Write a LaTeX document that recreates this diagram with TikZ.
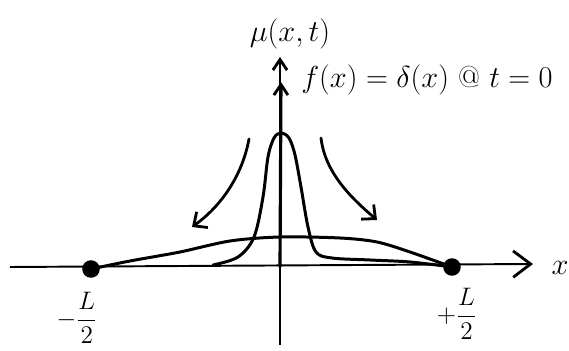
\documentclass[tikz,border=0pt]{standalone}
\usepackage{amsmath}
\usetikzlibrary{positioning, arrows.meta, calc}

\begin{document}
\begin{tikzpicture}[
  x=0.02cm, y=0.02cm,
  xaxis/.style={line width=1.1pt, -{Straight Barb[length=10pt, width=15pt, line width=1.6pt]}},
  yaxis/.style={line width=1.1pt, -{Straight Barb[length=6pt, width=8pt, line width=1.6pt]}},
  spike/.style={line width=1.8pt, -{Straight Barb[length=6pt, width=8pt, line width=1.6pt]}},
  curve/.style={line width=1.7pt, line join=round, line cap=round},
  spread/.style={line width=1.6pt, line cap=round, -{Straight Barb[length=6pt, width=11pt, line width=1.6pt]}},
  endpt/.style={circle, fill, inner sep=0pt, minimum size=10pt},
  lab/.style={font=\LARGE, inner sep=1pt},
]

\useasboundingbox (-280,-84) rectangle (289,267);

% === AXES ===
\coordinate (xl) at (-270,0);
\coordinate (xr) at (253,3);
\coordinate (yb) at (0,-78);
\coordinate (yt) at (0,210);
\coordinate (o) at (0,0);
\coordinate (dtop) at (1,185);

\draw[xaxis] (xl) -- (xr);
\draw[yaxis] (yb) -- (yt);
\draw[spike] (o) -- (dtop);

% Axis labels
\node[lab] (xlab) at (280,-1) {$x$};
\node[lab] (mu) at (10,233) {$\mu(x,t)$};
\node[lab] (fdelta) at (147,187) {$f(x)=\delta(x)$ @ $t=0$};

% === END POINTS ===
\node[endpt] (lm) at (-189,-2) {};
\node[endpt] (lp) at (172,0) {};
\node[font=\Large] (lmlab) at (-203,-51) {$-\dfrac{L}{2}$};
\node[font=\Large] (lplab) at (177,-47) {$+\dfrac{L}{2}$};

% === INITIAL PEAK ===
\draw[curve] plot[smooth, tension=0.55] coordinates {
  (-67,2) (-42,10) (-26,30) (-17,70) (-12,110) (-6,129) (1,134)
  (9,129) (15,112) (21,80) (28,40) (36,15) (52,9) (90,7) (130,5) (lp)};

% === SPREAD PROFILE ===
\draw[curve] plot[smooth, tension=0.5] coordinates {
  (lm) (-150,6) (-100,15) (-50,26) (0,30) (60,29) (97,25) (130,15) (lp)};

% === SPREADING ARROWS ===
\coordinate (al0) at (-31,128);
\coordinate (al1) at (-88,40);
\coordinate (ar0) at (41,129);
\coordinate (ar1) at (97,47);
\draw[spread] (al0) .. controls (-38,90) and (-60,60) .. (al1);
\draw[spread] (ar0) .. controls (45,95) and (70,70) .. (ar1);

\end{tikzpicture}
\end{document}
